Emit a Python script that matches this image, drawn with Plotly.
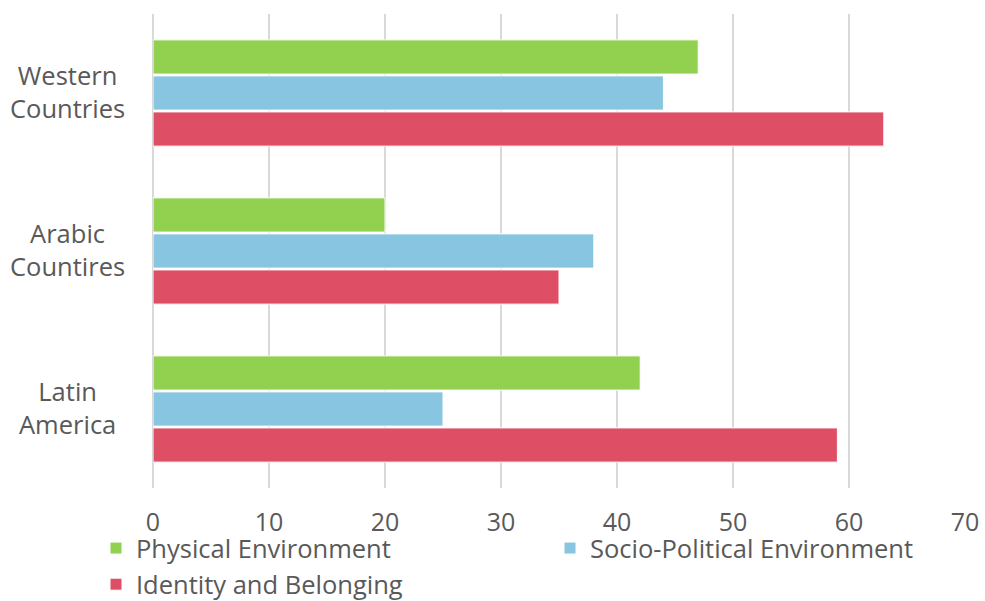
import plotly.graph_objects as go

categories = ["Western Countries", "Arabic Countires", "Latin America"]
cat_labels = ["Western<br>Countries", "Arabic<br>Countires", "Latin<br>America"]
physical = [47, 20, 42]
socio = [44, 38, 25]
identity = [63, 35, 59]
series_names = ["Physical Environment", "Socio-Political Environment", "Identity and Belonging"]
colors = ["#92D050", "#87C5E0", "#DE4F65"]
x_ticks = [0, 10, 20, 30, 40, 50, 60, 70]

FONT = "Open Sans"
GREY = "#595959"

fig = go.Figure()
for name, vals, col in zip(series_names, [physical, socio, identity], colors):
    fig.add_trace(go.Bar(
        y=categories, x=vals, name=name, orientation="h",
        marker=dict(color=col, line=dict(color="white", width=1)),
    ))

for cat, lab in zip(categories, cat_labels):
    fig.add_annotation(
        x=-0.1047, xref="paper", y=cat, yref="y", text=lab, showarrow=False,
        align="center", xanchor="center", yanchor="middle", yshift=2,
        font=dict(family=FONT, size=25.5, color=GREY),
    )

fig.update_layout(
    width=985, height=601,
    margin=dict(l=153, r=20, t=14, b=113, autoexpand=False),
    paper_bgcolor="white", plot_bgcolor="white",
    barmode="group", bargap=0.316, bargroupgap=0.05,
    font=dict(family=FONT, color=GREY),
    xaxis=dict(
        range=[0, 70], tickvals=x_ticks, showgrid=True, gridcolor="#D9D9D9", gridwidth=2,
        zeroline=True, zerolinecolor="#D9D9D9", zerolinewidth=2, showline=False,
        tickfont=dict(family=FONT, size=25, color=GREY), ticklabelstandoff=17,
    ),
    yaxis=dict(
        autorange="reversed", showticklabels=False, showgrid=False, zeroline=False,
    ),
    legend=dict(
        orientation="h", x=(96 - 153) / 812, xref="paper", xanchor="left",
        y=-0.078, yanchor="top", entrywidth=409, traceorder="normal",
        bgcolor="rgba(0,0,0,0)",
        font=dict(family=FONT, size=25.5, color=GREY), itemclick=False,
    ),
    showlegend=True,
)

fig.write_html("out.html")
